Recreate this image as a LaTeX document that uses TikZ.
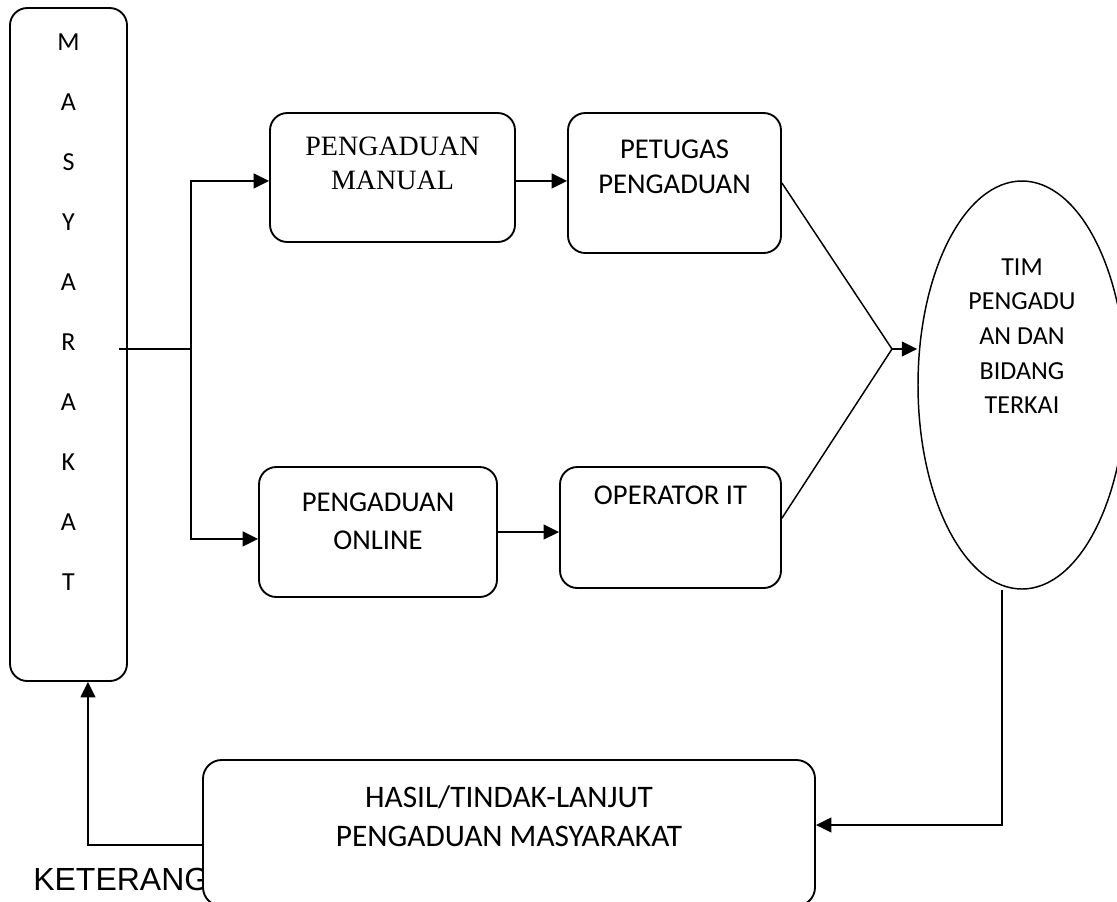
\documentclass[tikz,border=0pt]{standalone}
\usepackage{fontspec}
\setmainfont{Carlito}
\newfontfamily\timesfont{Liberation Serif}
\newfontfamily\arialfont{Liberation Sans}
\usetikzlibrary{arrows.meta,shapes.geometric}
\tikzset{
  box/.style={draw, rectangle, rounded corners=13pt, line width=1.4pt, fill=white},
  txt/.style={inner sep=0pt, align=center, font=\fontsize{21.5}{26.5}\selectfont},
  line/.style={line width=1.5pt},
  thinline/.style={line width=1.1pt},
  arr/.style={line width=1.5pt, -{Triangle[length=11.5pt,width=11pt]}}
}

\begin{document}
\begin{tikzpicture}[x=0.75pt, y=-0.75pt]
  \clip (0,0) rectangle (1117,901);

  % kotak masyarakat (kiri)
  \node (masy) [box, minimum width=87.75pt, minimum height=504.75pt] at (68.5,344.5) {};
  \node (masy-t) [txt, font=\fontsize{19.5}{45}\selectfont] at ([yshift=24pt]masy.center) {M\\A\\S\\Y\\A\\R\\A\\K\\A\\T};

  % baris atas: manual
  \node (manual) [box, minimum width=183.75pt, minimum height=96.75pt] at (392.5,177.5) {};
  \node (manual-t) [txt, font=\timesfont\fontsize{21}{25.5}\selectfont] at ([yshift=-38.25pt]manual.north) {PENGADUAN\\MANUAL};
  \node (petugas) [box, minimum width=159.75pt, minimum height=105pt] at (674.5,183) {};
  \node (petugas-t) [txt] at ([yshift=-40.9pt]petugas.north) {PETUGAS\\PENGADUAN};

  % baris bawah: online
  \node (online) [box, minimum width=178.5pt, minimum height=97.5pt] at (378,532) {};
  \node (online-t) [txt, font=\fontsize{21.5}{28.5}\selectfont] at ([yshift=-41.25pt]online.north) {PENGADUAN\\ONLINE};
  \node (operator) [box, minimum width=165.75pt, minimum height=90.75pt] at (670.5,527.5) {};
  \node (operator-t) [txt] at ([yshift=-21.75pt]operator.north) {OPERATOR IT};

  % tim pengaduan
  \node (tim) [draw, ellipse, line width=1.1pt, inner sep=0pt, minimum width=156pt, minimum height=306pt] at (1022,385) {};
  \node (tim-t) [txt, font=\fontsize{19.5}{26}\selectfont] at ([yshift=36.75pt]tim.center) {TIM\\PENGADU\\AN DAN\\BIDANG\\TERKAI};

  % keterangan, tertutup kotak hasil
  \node (ket) [inner sep=0pt, anchor=base west, font=\arialfont\fontsize{24}{28}\selectfont] at (33,890) {KETERANG};

  % kotak hasil
  \node (hasil) [box, rounded corners=14pt, minimum width=459pt, minimum height=109.5pt] at (509,833) {};
  \node (hasil-t) [txt, font=\fontsize{23.5}{29.5}\selectfont] at ([yshift=-43.1pt]hasil.north) {HASIL/TINDAK-LANJUT\\PENGADUAN MASYARAKAT};

  % titik bantu
  \coordinate (stub) at (119,349);
  \coordinate (split) at (191,349);
  \coordinate (join) at (892,349);

  % panah
  \draw[line] (stub) -- (split);
  \draw[arr] (split) |- ([yshift=-2.6pt]manual.west);
  \draw[arr] (split) |- ([yshift=-5.2pt]online.west);
  \draw[arr] ([yshift=-2.6pt]manual.east) -- ([yshift=-2.6pt]manual.east -| petugas.west);
  \draw[arr] (online.east) -- (online.east -| operator.west);
  \draw[thinline] (petugas.east) -- (join);
  \draw[thinline] ([yshift=7pt]operator.east) -- (join);
  \draw[arr] (join) -- (join -| tim.west);
  \draw[arr, line width=1.2pt] ([xshift=-15pt]tim.south) |- ([yshift=6pt]hasil.east);
  \draw[arr] ([yshift=-9pt]hasil.west) -| ([xshift=14.6pt]masy.south);
\end{tikzpicture}
\end{document}
